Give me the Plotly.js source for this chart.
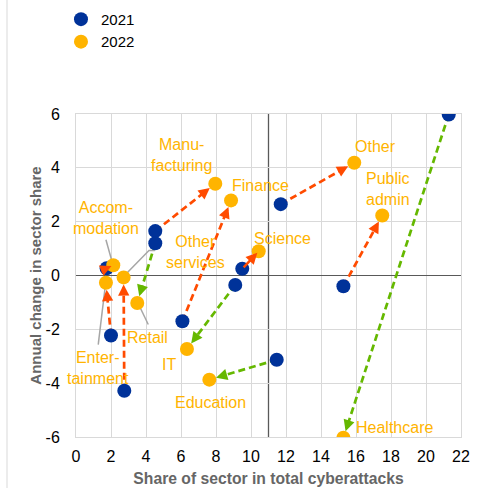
<!DOCTYPE html>
<html><head><meta charset="utf-8">
<script src="https://cdn.plot.ly/plotly-3.0.1.min.js"></script>
<style>html,body{margin:0;padding:0;background:#fff}</style>
</head><body><div id="chart" style="width:478px;height:488px"></div>
<script>
// ---- data ----
const sectors   = ["Healthcare","Other","Public admin","Finance","Manufacturing","Science","IT","Education","Retail","Other services","Accommodation","Entertainment"];
const share2021 = [21.3, 11.7, 15.28, 6.08, 4.53, 9.5, 9.1, 11.47, 4.53, 2.76, 1.75, 2.0];
const change2021= [5.98, 2.65, -0.4, -1.7, 1.65, 0.25, -0.35, -3.13, 1.2, -4.28, 0.27, -2.23];
const share2022 = [15.28, 15.9, 17.5, 8.86, 7.96, 10.44, 6.34, 7.62, 3.5, 2.72, 2.13, 1.71];
const change2022= [-6.03, 4.19, 2.23, 2.79, 3.41, 0.9, -2.73, -3.87, -1.02, -0.07, 0.38, -0.27];
const labelText = ["Healthcare","Other","Public<br>admin","Finance","Manu-<br>facturing","Science","IT","Education","Retail","Other<br>services","Accom-<br>modation","Enter-<br>tainment"];
const averageShare = 11;
const xTicks = [0,2,4,6,8,10,12,14,16,18,20,22];
const yTicks = [-6,-4,-2,0,2,4,6];

// ---- label placement (layout) ----
const labelX = [18.2, 17.1, 17.85, 10.57, 6.0, 11.8, 5.31, 7.71, 4.1, 6.8, 1.70, 1.27];
const labelY = [-5.64, 4.8, 3.23, 3.35, 4.46, 1.39, -3.31, -4.72, -2.32, 0.87, 2.14, -3.44];
// leader lines
const leaders = [
  {x:[1.71,2.07], y:[1.33,0.49]},
  {x:[2.8,4.17,4.5], y:[0.02,0.93,0.93]},
  {x:[3.56,4.13], y:[-1.05,-1.82]},
  {x:[1.66,1.27], y:[-0.46,-2.57]}
];

const BLUE="#003299", YELLOW="#ffb400", ORANGE="#ff4b00", GREEN="#65b800";
const FAM='Arial, Liberation Sans, sans-serif';
const W=478,H=488,M={l:76,r:17,t:114,b:51,autoexpand:false};
const xr=[0,22], yr=[-6,6];
const pxX=(W-M.l-M.r)/(xr[1]-xr[0]), pxY=(H-M.t-M.b)/(yr[1]-yr[0]);
const R=7, HEAD=12;

const traces=[], annotations=[], shapes=[];
leaders.forEach(l=>traces.push({x:l.x,y:l.y,mode:'lines',line:{color:'#a6a6a6',width:1.5},showlegend:false,hoverinfo:'skip'}));

for(let i=0;i<sectors.length;i++){
  const x1=share2021[i], y1=change2021[i], x2=share2022[i], y2=change2022[i];
  const col = y2>y1 ? ORANGE : GREEN;
  const dxp=(x2-x1)*pxX, dyp=(y2-y1)*pxY, len=Math.hypot(dxp,dyp);
  const ux=dxp/len, uy=dyp/len;
  let ax, ay, stand;
  if(len < 2*R+HEAD){
    ax=x1; ay=y1; stand=2;
  } else {
    ax = x2 - ux*(R+HEAD)/pxX; ay = y2 - uy*(R+HEAD)/pxY; stand=R;
    traces.push({x:[x1, x2 - ux*(R+HEAD-3)/pxX], y:[y1, y2 - uy*(R+HEAD-3)/pxY], mode:'lines',
      line:{color:col,width:2.7,dash:'7px,4px'},showlegend:false,hoverinfo:'skip'});
  }
  annotations.push({x:x2,y:y2,ax:ax,ay:ay,xref:'x',yref:'y',axref:'x',ayref:'y',text:'',
    showarrow:true,arrowhead:2,arrowsize:0.9,arrowwidth:2.5,arrowcolor:col,standoff:stand});
  annotations.push({x:labelX[i],y:labelY[i],xref:'x',yref:'y',text:labelText[i],showarrow:false,
    font:{family:FAM,size:16,color:YELLOW},align:'center'});
}

traces.push({name:'2021',x:share2021,y:change2021,mode:'markers',marker:{color:BLUE,size:14},hovertext:sectors});
traces.push({name:'2022',x:share2022,y:change2022,mode:'markers',marker:{color:YELLOW,size:14},hovertext:sectors});

shapes.push({type:'line',xref:'x',yref:'y',x0:averageShare,x1:averageShare,y0:yr[0],y1:yr[1],line:{color:'#595959',width:1.3},layer:'below'});
shapes.push({type:'line',xref:'paper',yref:'paper',x0:(7-M.l)/(W-M.l-M.r),x1:(7-M.l)/(W-M.l-M.r),y0:-0.2,y1:1.4,line:{color:'#d9d9d9',width:1}});

const layout={
  width:W,height:H,margin:M,paper_bgcolor:'#fff',plot_bgcolor:'#fff',font:{family:FAM,size:16,color:'#000'},
  showlegend:true,
  legend:{x:-0.039,y:1.344,xanchor:'left',yanchor:'top',font:{size:15,color:'#000'},bgcolor:'rgba(0,0,0,0)',tracegroupgap:0},
  xaxis:{range:xr,tickvals:xTicks,ticktext:xTicks.map(String),showgrid:true,gridcolor:'#d9d9d9',gridwidth:1,
    zeroline:false,showline:true,linecolor:'#d9d9d9',mirror:true,ticks:'',ticklabelstandoff:5,
    tickfont:{size:16,color:'#000'},
    title:{text:'Share of sector in total cyberattacks',font:{size:15.7,color:'#666',family:FAM,weight:'bold'},standoff:8}},
  yaxis:{range:yr,tickvals:yTicks,ticktext:yTicks.map(String),showgrid:true,gridcolor:'#d9d9d9',gridwidth:1,
    zeroline:true,zerolinecolor:'#595959',zerolinewidth:1.3,showline:true,linecolor:'#d9d9d9',mirror:true,ticks:'',ticklabelstandoff:12,
    tickfont:{size:16,color:'#000'},
    title:{text:'Annual change in sector share',font:{size:15,color:'#666',family:FAM,weight:'bold'},standoff:0}},
  annotations:annotations,shapes:shapes
};
Plotly.newPlot('chart',traces,layout,{displayModeBar:false,staticPlot:true});
</script></body></html>
